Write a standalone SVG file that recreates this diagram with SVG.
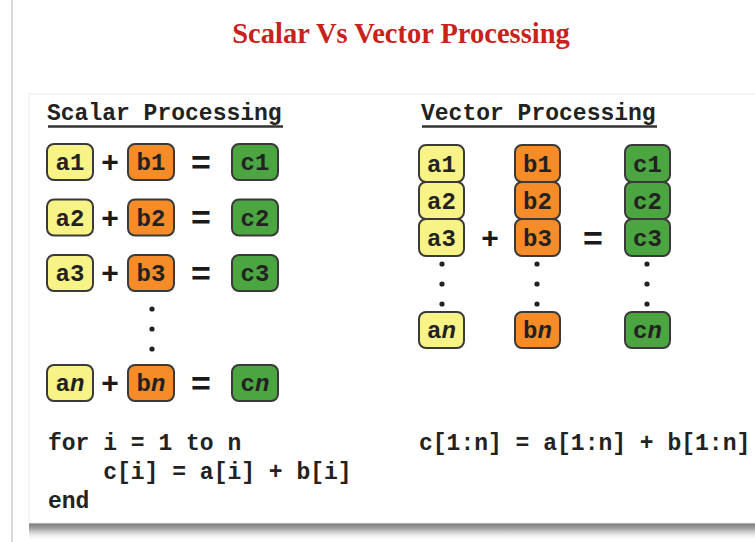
<svg xmlns="http://www.w3.org/2000/svg" width="755" height="542" viewBox="0 0 755 542">
  <defs>
    <linearGradient id="shadowV" x1="0" y1="0" x2="0" y2="1">
      <stop offset="0" stop-color="#6f6f6f"/>
      <stop offset="0.35" stop-color="#a4a4a4"/>
      <stop offset="1" stop-color="#ffffff" stop-opacity="0"/>
    </linearGradient>
    <linearGradient id="edgeL" x1="0" y1="0" x2="0" y2="1">
      <stop offset="0" stop-color="#e4e4e4"/>
      <stop offset="1" stop-color="#b8b8b8"/>
    </linearGradient>
    <style>
      .title { font-family: "Liberation Serif", serif; font-weight: bold; font-size: 28.5px; fill: #c8221c; }
      .mono { font-family: "Liberation Mono", monospace; font-weight: bold; fill: #222; }
      .head { font-size: 23px; }
      .code { font-size: 23px; }
      .lbl { font-size: 24px; text-anchor: middle; }
      .op { font-family: "Liberation Sans", sans-serif; font-weight: bold; fill: #1a1a1a; text-anchor: middle; }
      .box { stroke: #3a3a3a; stroke-width: 2; }
      .a { fill: #f8f386; }
      .b { fill: #f68c28; }
      .c { fill: #4ba540; }
      .dot { fill: #222; }
      .uline { stroke: #333; stroke-width: 2.5; }
    </style>
  </defs>

  <!-- page background and left page edge -->
  <rect x="0" y="0" width="755" height="542" fill="#ffffff"/>
  <line x1="12" y1="0" x2="12" y2="542" stroke="#cacaca" stroke-width="1.5"/>

  <!-- title -->
  <text class="title" x="401" y="43" text-anchor="middle">Scalar Vs Vector Processing</text>

  <!-- card with curled shadow underneath -->
  <rect x="29" y="522" width="726" height="19" fill="url(#shadowV)"/>
  <rect x="29" y="94" width="740" height="429" fill="#ffffff" stroke="#ededed" stroke-width="1"/>
  <line x1="29" y1="96" x2="29" y2="523" stroke="url(#edgeL)" stroke-width="1.6"/>

  <!-- section headings -->
  <g id="scalar-heading">
    <text class="mono head" x="47" y="120">Scalar Processing</text>
    <line class="uline" x1="48" y1="126.5" x2="283" y2="126.5"/>
  </g>
  <g id="vector-heading">
    <text class="mono head" x="421" y="120">Vector Processing</text>
    <line class="uline" x1="422" y1="126.5" x2="657" y2="126.5"/>
  </g>

  <!-- scalar rows -->
  <g id="s-a1"><rect class="box a" x="47" y="144" width="46" height="36" rx="7"/><text class="mono lbl" x="70" y="170">a1</text></g>
  <g id="s-b1"><rect class="box b" x="128" y="144" width="46" height="36" rx="7"/><text class="mono lbl" x="151" y="170">b1</text></g>
  <g id="s-c1"><rect class="box c" x="232" y="144" width="46" height="36" rx="7"/><text class="mono lbl" x="255" y="170">c1</text></g>

  <g id="s-a2"><rect class="box a" x="47" y="199.5" width="46" height="36" rx="7"/><text class="mono lbl" x="70" y="225.5">a2</text></g>
  <g id="s-b2"><rect class="box b" x="128" y="199.5" width="46" height="36" rx="7"/><text class="mono lbl" x="151" y="225.5">b2</text></g>
  <g id="s-c2"><rect class="box c" x="232" y="199.5" width="46" height="36" rx="7"/><text class="mono lbl" x="255" y="225.5">c2</text></g>

  <g id="s-a3"><rect class="box a" x="47" y="255" width="46" height="36" rx="7"/><text class="mono lbl" x="70" y="281">a3</text></g>
  <g id="s-b3"><rect class="box b" x="128" y="255" width="46" height="36" rx="7"/><text class="mono lbl" x="151" y="281">b3</text></g>
  <g id="s-c3"><rect class="box c" x="232" y="255" width="46" height="36" rx="7"/><text class="mono lbl" x="255" y="281">c3</text></g>

  <g id="s-an"><rect class="box a" x="47" y="365" width="46" height="36" rx="7"/><text class="mono lbl" x="70" y="391">a<tspan font-style="italic">n</tspan></text></g>
  <g id="s-bn"><rect class="box b" x="128" y="365" width="46" height="36" rx="7"/><text class="mono lbl" x="151" y="391">b<tspan font-style="italic">n</tspan></text></g>
  <g id="s-cn"><rect class="box c" x="232" y="365" width="46" height="36" rx="7"/><text class="mono lbl" x="255" y="391">c<tspan font-style="italic">n</tspan></text></g>

  <!-- vector columns -->
  <g id="v-a">
    <rect class="box a" x="419" y="145" width="45" height="37" rx="7"/><text class="mono lbl" x="441.5" y="171.5">a1</text>
    <rect class="box a" x="419" y="182" width="45" height="37" rx="7"/><text class="mono lbl" x="441.5" y="208.5">a2</text>
    <rect class="box a" x="419" y="219" width="45" height="37" rx="7"/><text class="mono lbl" x="441.5" y="245.5">a3</text>
    <rect class="box a" x="419" y="312" width="45" height="36" rx="7"/><text class="mono lbl" x="441.5" y="338">a<tspan font-style="italic">n</tspan></text>
  </g>
  <g id="v-b">
    <rect class="box b" x="515" y="145" width="45" height="37" rx="7"/><text class="mono lbl" x="537.5" y="171.5">b1</text>
    <rect class="box b" x="515" y="182" width="45" height="37" rx="7"/><text class="mono lbl" x="537.5" y="208.5">b2</text>
    <rect class="box b" x="515" y="219" width="45" height="37" rx="7"/><text class="mono lbl" x="537.5" y="245.5">b3</text>
    <rect class="box b" x="515" y="312" width="45" height="36" rx="7"/><text class="mono lbl" x="537.5" y="338">b<tspan font-style="italic">n</tspan></text>
  </g>
  <g id="v-c">
    <rect class="box c" x="625" y="145" width="45" height="37" rx="7"/><text class="mono lbl" x="647.5" y="171.5">c1</text>
    <rect class="box c" x="625" y="182" width="45" height="37" rx="7"/><text class="mono lbl" x="647.5" y="208.5">c2</text>
    <rect class="box c" x="625" y="219" width="45" height="37" rx="7"/><text class="mono lbl" x="647.5" y="245.5">c3</text>
    <rect class="box c" x="625" y="312" width="45" height="36" rx="7"/><text class="mono lbl" x="647.5" y="338">c<tspan font-style="italic">n</tspan></text>
  </g>

  <!-- operators and ellipsis dots -->
  <g id="connectors">
    <text class="op" x="110" y="172" font-size="30">+</text>
    <text class="op" x="201" y="174" font-size="34">=</text>
    <text class="op" x="110" y="228" font-size="30">+</text>
    <text class="op" x="201" y="229" font-size="34">=</text>
    <text class="op" x="110" y="283" font-size="30">+</text>
    <text class="op" x="201" y="285" font-size="34">=</text>
    <text class="op" x="110" y="393" font-size="30">+</text>
    <text class="op" x="201" y="395" font-size="34">=</text>

    <text class="op" x="490" y="248" font-size="30">+</text>
    <text class="op" x="593" y="250" font-size="34">=</text>

    <circle class="dot" cx="152" cy="309" r="2.6"/>
    <circle class="dot" cx="152" cy="329" r="2.6"/>
    <circle class="dot" cx="152" cy="349" r="2.6"/>

    <circle class="dot" cx="442" cy="264" r="2.6"/>
    <circle class="dot" cx="442" cy="284" r="2.6"/>
    <circle class="dot" cx="442" cy="304" r="2.6"/>
    <circle class="dot" cx="537" cy="264" r="2.6"/>
    <circle class="dot" cx="537" cy="284" r="2.6"/>
    <circle class="dot" cx="537" cy="304" r="2.6"/>
    <circle class="dot" cx="647" cy="264" r="2.6"/>
    <circle class="dot" cx="647" cy="284" r="2.6"/>
    <circle class="dot" cx="647" cy="304" r="2.6"/>
  </g>

  <!-- code listings -->
  <g id="scalar-code">
    <text class="mono code" x="48" y="450">for i = 1 to n</text>
    <text class="mono code" x="48" y="479" xml:space="preserve">    c[i] = a[i] + b[i]</text>
    <text class="mono code" x="48" y="508">end</text>
  </g>
  <g id="vector-code">
    <text class="mono code" x="419" y="450">c[1:n] = a[1:n] + b[1:n]</text>
  </g>
</svg>
